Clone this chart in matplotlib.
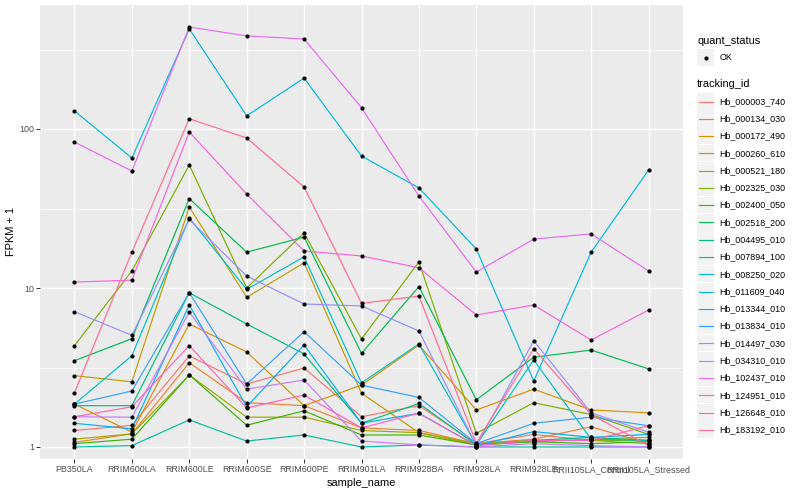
import matplotlib
matplotlib.use('Agg')
import matplotlib.pyplot as py
from matplotlib.patches import Rectangle
from matplotlib.lines import Line2D

py.rcParams['font.family'] = ['Liberation Sans', 'DejaVu Sans']

#--data: FPKM+1 per sample, one list per tracking id (legend order)
samples = ['PB350LA', 'RRIM600LA', 'RRIM600LE', 'RRIM600SE', 'RRIM600PE', 'RRIM901LA',
           'RRIM928BA', 'RRIM928LA', 'RRIM928LE', 'RRII105LA_Control', 'RRII105LA_Stressed']

tracking_ids = ['Hb_000003_740', 'Hb_000134_030', 'Hb_000172_490', 'Hb_000260_610',
                'Hb_000521_180', 'Hb_002325_030', 'Hb_002400_050', 'Hb_002518_200',
                'Hb_004495_010', 'Hb_007894_100', 'Hb_008250_020', 'Hb_011609_040',
                'Hb_013344_010', 'Hb_013834_010', 'Hb_014497_030', 'Hb_034310_010',
                'Hb_102437_010', 'Hb_124951_010', 'Hb_126648_010', 'Hb_183192_010']

s000003 = [1.27, 1.37, 3.74, 2.49, 3.14, 1.55, 1.82, 1.05, 1.20, 1.10, 1.05]
s000134 = [1.07, 1.21, 3.39, 1.90, 1.82, 1.32, 1.27, 1.05, 1.12, 1.34, 1.05]
s000172 = [1.86, 1.24, 5.94, 3.96, 1.82, 2.45, 4.38, 1.71, 2.31, 1.71, 1.64]
s000260 = [2.81, 2.57, 32.3, 8.74, 14.4, 2.18, 1.23, 1.03, 1.08, 1.12, 1.15]
s000521 = [1.12, 1.21, 2.84, 1.54, 1.54, 1.27, 1.23, 1.05, 1.10, 1.10, 1.10]
s002325 = [4.34, 12.8, 59.4, 10.0, 22.2, 4.78, 14.6, 1.22, 1.90, 1.60, 1.20]
s002400 = [1.05, 1.12, 2.84, 1.37, 1.69, 1.19, 1.19, 1.03, 1.08, 1.05, 1.08]
s002518 = [3.49, 4.80, 36.5, 16.8, 20.9, 3.88, 10.2, 1.98, 3.67, 4.07, 3.10]
s004495 = [1.82, 1.82, 9.34, 5.94, 3.85, 1.41, 1.88, 1.03, 1.10, 1.15, 1.10]
s007894 = [1.00, 1.02, 1.48, 1.09, 1.19, 1.00, 1.03, 1.00, 1.00, 1.00, 1.00]
s008250 = [1.86, 3.75, 27.5, 9.80, 15.7, 2.53, 4.45, 1.03, 3.53, 1.12, 1.10]
s011609 = [130, 65.7, 426, 121, 209, 67.6, 42.6, 17.6, 2.60, 16.8, 55.2]
s013344 = [1.41, 1.30, 7.82, 1.79, 4.38, 1.41, 1.63, 1.02, 1.25, 1.15, 1.20]
s013834 = [1.86, 2.25, 9.34, 2.49, 5.31, 2.45, 2.05, 1.05, 1.41, 1.54, 1.36]
s014497 = [7.10, 5.04, 27.0, 11.9, 7.93, 7.71, 5.37, 1.02, 4.66, 1.64, 1.24]
s034310 = [1.55, 1.54, 7.06, 2.31, 2.64, 1.09, 1.03, 1.00, 1.05, 1.02, 1.00]
s102437 = [82.8, 54.4, 438, 385, 368, 136, 37.9, 12.6, 20.3, 21.9, 12.8]
s124951 = [10.9, 11.2, 95.7, 39.0, 17.1, 15.9, 13.4, 6.76, 7.82, 4.71, 7.27]
s126648 = [1.55, 1.79, 4.34, 1.76, 2.12, 1.32, 1.63, 1.02, 1.10, 1.10, 1.36]
s183192 = [2.19, 16.8, 116, 87.8, 43.2, 8.00, 8.90, 1.06, 4.15, 1.60, 1.02]

values = [s000003, s000134, s000172, s000260, s000521, s002325, s002400, s002518,
          s004495, s007894, s008250, s011609, s013344, s013834, s014497, s034310,
          s102437, s124951, s126648, s183192]

#--ggplot hue palette, 20 levels
colors = ['#F8766D', '#EA8331', '#D89000', '#C09B00', '#A3A500', '#7CAE00', '#39B600',
          '#00BB4E', '#00BF7D', '#00C1A3', '#00BFC4', '#00BAE0', '#00B0F6', '#35A2FF',
          '#9590FF', '#C77CFF', '#E76BF3', '#FA62DB', '#FF62BC', '#FF6C91']

yticks = [1, 10, 100]
ytick_labels = ['1', '10', '100']

#--figure (pixel based layout, 800x500)
W, H = 800, 500
fig = py.figure(figsize=(8, 5), dpi=100)
left, right, top, bottom = 40, 683, 5, 459
ax = fig.add_axes([left/W, 1-bottom/H, (right-left)/W, (bottom-top)/H])
ax.set_facecolor('#EBEBEB')
for sp in ax.spines.values(): sp.set_visible(False)

x = list(range(len(samples)))
for vals, c in zip(values, colors):
    ax.plot(x, vals, color=c, lw=0.85, zorder=3)
for vals in values:
    ax.plot(x, vals, 'o', color='black', ms=3.0, mew=0, zorder=4)

ax.set_yscale('log')
ax.set_ylim(10**(-(bottom-447)/159.), 10**((447-top)/159.))
ax.set_xlim(-0.6, len(samples)-0.4)

ax.set_yticks(yticks)
ax.set_yticklabels(ytick_labels)
ax.yaxis.set_minor_locator(matplotlib.ticker.FixedLocator([10**0.5, 10**1.5, 10**2.5]))
ax.yaxis.set_minor_formatter(matplotlib.ticker.NullFormatter())
ax.set_xticks(x)
ax.set_xticklabels(samples)

ax.grid(which='major', color='white', lw=1.0, zorder=0)
ax.grid(which='minor', axis='y', color='white', lw=0.5, zorder=0)
ax.set_axisbelow(True)
ax.tick_params(axis='both', which='major', length=2.7, width=0.7, color='#333333',
               labelcolor='#4D4D4D', labelsize=6.4, pad=1.6)
ax.tick_params(axis='y', which='minor', length=0)

ax.set_xlabel('sample_name', fontsize=7.9, labelpad=3)
ax.set_ylabel('FPKM + 1', fontsize=7.9, labelpad=2)

#--legend drawn in pixel coordinates
lax = fig.add_axes([0, 0, 1, 1])
lax.set_xlim(0, W)
lax.set_ylim(H, 0)
lax.axis('off')

kx, ks = 697, 17.3
lax.text(kx, 41, 'quant_status', fontsize=7.9, va='center', ha='left')
lax.add_patch(Rectangle((kx, 57.5-ks/2), ks, ks, fc='#F2F2F2', ec='none'))
lax.add_line(Line2D([kx+ks/2], [57.5], marker='o', color='black', ms=3.0, mew=0))
lax.text(kx+ks+5, 57.5, 'OK', fontsize=6.4, va='center', ha='left')

lax.text(kx, 84, 'tracking_id', fontsize=7.9, va='center', ha='left')
for i, (name, c) in enumerate(zip(tracking_ids, colors)):
    yc = 101.5 + i*17.28
    lax.add_patch(Rectangle((kx, yc-ks/2), ks, ks-0.6, fc='#F2F2F2', ec='none'))
    lax.add_line(Line2D([kx+1.7, kx+ks-1.7], [yc, yc], color=c, lw=0.85))
    lax.text(kx+ks+5, yc, name, fontsize=6.4, va='center', ha='left')

py.savefig('out.png', dpi=100)
